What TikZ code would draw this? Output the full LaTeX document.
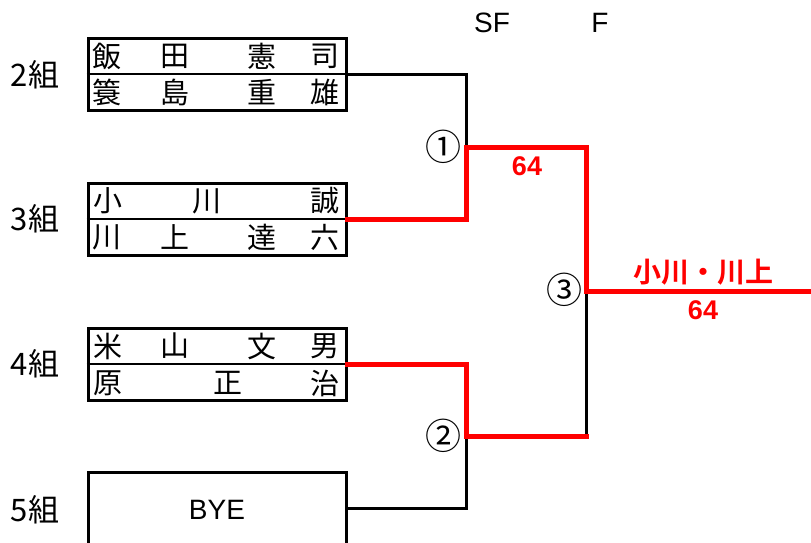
\documentclass[tikz,border=0pt]{standalone}
\usepackage{fontspec}
\setmainfont{Liberation Sans}
\newfontfamily\cjk{Noto Sans CJK JP}
\newfontfamily\cjkb{Noto Sans CJK JP Bold}
\begin{document}
\begin{tikzpicture}[x=1pt,y=-1pt,
  entry/.style={draw, line width=3pt, minimum width=258pt, minimum height=72pt, inner sep=0pt},
  nm/.style={inner sep=0pt, font=\cjk\fontsize{29}{30}\selectfont},
  grp/.style={inner sep=0pt, font=\cjk\fontsize{31}{33}\selectfont},
  lab/.style={inner sep=0pt, font=\fontsize{28}{30}\selectfont},
  circ/.style={inner sep=0pt, font=\cjk\fontsize{36}{38}\selectfont},
  red/.style={inner sep=0pt, text=red},
  bk/.style={line width=3pt, line cap=rect},
  rd/.style={line width=5pt, draw=red, line cap=rect, line join=miter}]
\useasboundingbox (0,0) rectangle (811,542);
\clip (0,0) rectangle (811,542);

% headers
\node[lab] (sf) at (492,23) {SF};
\node[lab] (f) at (600,23) {F};

% group labels
\node[grp] (g2) at (35,75) {2組};
\node[grp] (g3) at (35,219) {3組};
\node[grp] (g4) at (35,364) {4組};
\node[grp] (g5) at (35,510) {5組};

% boxes
\node[entry] (b1) at (217,74) {};
\node[entry] (b2) at (217,219) {};
\node[entry] (b3) at (217,364) {};
\node[entry] (b4) at (217,508) {};
\node[lab] (bye) at (217,510) {BYE};

\draw[line width=1.3pt] (b1.west) -- (b1.east);
\draw[line width=1.3pt] (b2.west) -- (b2.east);
\draw[line width=1.3pt] (b3.west) -- (b3.east);

% names box 1
\node[nm] (n11) at (107,56) {飯};
\node[nm] (n12) at (175,56) {田};
\node[nm] (n13) at (262,56) {憲};
\node[nm] (n14) at (325,56) {司};
\node[nm] (n15) at (107,92) {簑};
\node[nm] (n16) at (175,92) {島};
\node[nm] (n17) at (262,92) {重};
\node[nm] (n18) at (325,92) {雄};
% names box 2
\node[nm] (n21) at (108,201) {小};
\node[nm] (n22) at (207,201) {川};
\node[nm] (n23) at (325,201) {誠};
\node[nm] (n24) at (107,237) {川};
\node[nm] (n25) at (175,237) {上};
\node[nm] (n26) at (262,237) {達};
\node[nm] (n27) at (325,237) {六};
% names box 3
\node[nm] (n31) at (108,346) {米};
\node[nm] (n32) at (175,346) {山};
\node[nm] (n33) at (262,346) {文};
\node[nm] (n34) at (325,346) {男};
\node[nm] (n35) at (108,383) {原};
\node[nm] (n36) at (228,383) {正};
\node[nm] (n37) at (325,383) {治};

% match points
\coordinate (m1) at (466,147);
\coordinate (m2) at (466,436);
\coordinate (m3) at (586,291);
\coordinate (fin) at (820,291);

\node[circ] (c1) at (443,147) {①};
\node[circ] (c2) at (443,436) {②};
\node[circ] (c3) at (564,290) {③};

% black lines
\draw[bk] (b1.east) -| (m1);
\draw[bk] (b4.east) -| (m2);
\draw[bk] (m2 -| m3) -- (m3);

% red lines
\draw[rd] (b2.east) -| (m1) -| (m3) -- (fin);
\draw[rd] (b3.east) -| (m2) -- (m2 -| m3);

% scores
\node[red, font=\bfseries\fontsize{27}{28}\selectfont] (s1) at (527,166) {64};
\node[red, font=\cjkb\fontsize{28}{30}\selectfont] (w) at (703,272) {小川・川上};
\node[red, font=\bfseries\fontsize{27}{28}\selectfont] (s2) at (703,310) {64};
\end{tikzpicture}
\end{document}
